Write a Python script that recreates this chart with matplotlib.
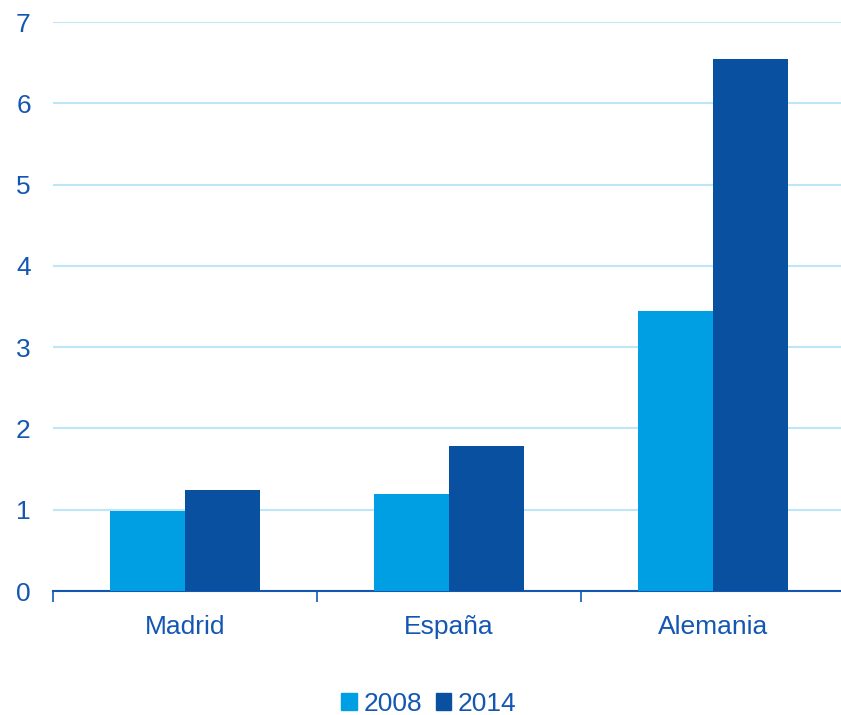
import numpy as np
import matplotlib
matplotlib.use("Agg")
import matplotlib.pyplot as plt
from matplotlib.patches import Patch

plt.rcParams['font.family'] = ['Liberation Sans', 'DejaVu Sans']

# Data
categories = ['Madrid', 'España', 'Alemania']
series_names = ['2008', '2014']
values_2008 = [0.99, 1.19, 3.44]
values_2014 = [1.24, 1.78, 6.54]

col_2008 = '#009FE3'
col_2014 = '#0A50A1'
txt_col = '#1457B2'
grid_col = '#BFE6F6'

fig = plt.figure(figsize=(8.41, 7.15), dpi=100)
ax = fig.add_axes([0.063, 0.1734, 0.942, 0.7958])

x = np.arange(len(categories))
w = 0.285
ax.bar(x - w/2, values_2008, w, color=col_2008, zorder=3)
ax.bar(x + w/2, values_2014, w, color=col_2014, zorder=3)

ax.set_xlim(-0.5, 2.5)
ax.set_ylim(0, 7)
ax.set_yticks(range(0, 8))
ax.yaxis.grid(True, color=grid_col, linewidth=1.5, zorder=0)
ax.set_axisbelow(True)

for s in ['top', 'right', 'left']:
    ax.spines[s].set_visible(False)
ax.spines['bottom'].set_color(txt_col)
ax.spines['bottom'].set_linewidth(1.5)

# category labels between boundary ticks
ax.set_xticks([-0.5, 0.5, 1.5, 2.5])
ax.set_xticklabels([])
ax.tick_params(axis='x', length=8, width=1.2, color=txt_col, direction='out')
ax.set_xticks(x, minor=True)
ax.set_xticklabels(categories, minor=True)
ax.tick_params(axis='x', which='minor', length=0, pad=17, labelsize=19, labelcolor=txt_col)
ax.tick_params(axis='y', length=0, pad=16, labelsize=19, labelcolor=txt_col)

handles = [Patch(color=col_2008), Patch(color=col_2014)]
fig.legend(handles, series_names, loc='lower center', ncol=2, frameon=False,
           fontsize=19, labelcolor=txt_col, bbox_to_anchor=(0.51, -0.034),
           handlelength=0.6, handleheight=0.6, handletextpad=0.25, columnspacing=0.5)

fig.savefig('out.png', dpi=100)
